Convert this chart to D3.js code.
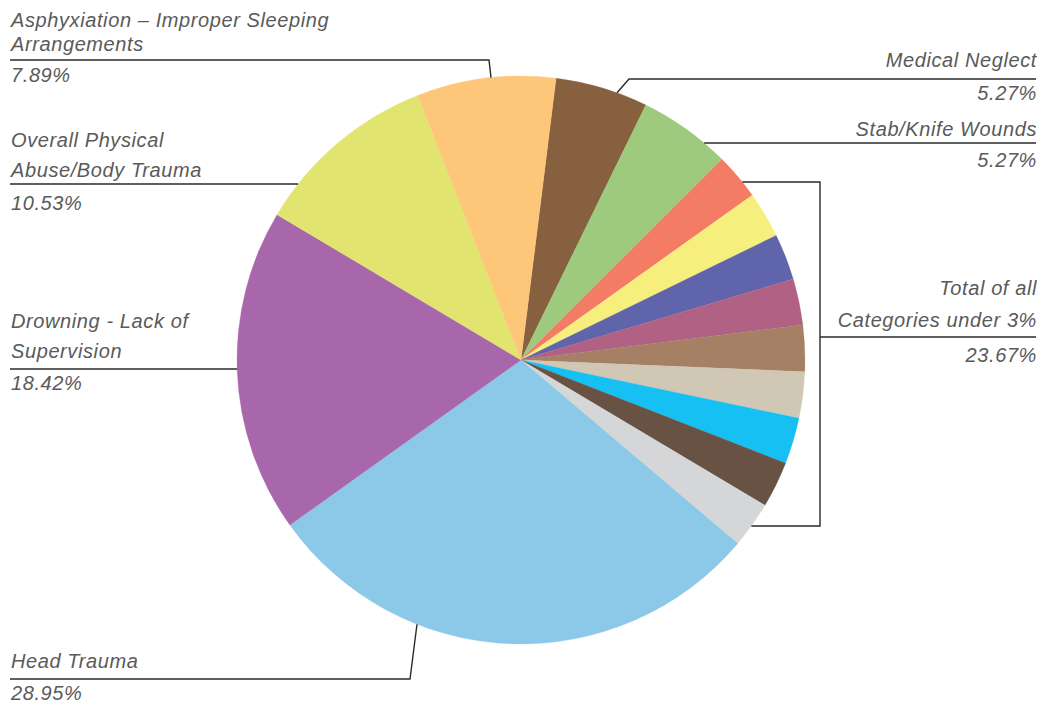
<!DOCTYPE html>
<html><head><meta charset="utf-8">
<script src="https://cdn.jsdelivr.net/npm/d3@7"></script>
<style>
html,body{margin:0;padding:0;background:#fff;}
text{font-family:"Liberation Sans","Arial","DejaVu Sans",sans-serif;font-style:italic;font-weight:normal;fill:#5a5a5a;font-size:20px;letter-spacing:0.6px;}
</style></head>
<body><svg id="c" width="1042" height="704"></svg>
<script>
// Data (clockwise from top)
const categories = ["Medical Neglect","Stab/Knife Wounds","Minor 1","Minor 2","Minor 3","Minor 4","Minor 5","Minor 6","Minor 7","Minor 8","Minor 9","Head Trauma","Drowning - Lack of Supervision","Overall Physical Abuse/Body Trauma","Asphyxiation – Improper Sleeping Arrangements"];
const values = [5.27,5.27,2.63,2.63,2.63,2.63,2.63,2.63,2.63,2.63,2.63,28.95,18.42,10.53,7.89];
const colors = ["#86603f","#9dca7c","#f47c64","#f7ef7d","#6064aa","#b16284","#a58064","#d0c7b4","#17c0f2","#685243","#d5d6d8","#8cc8e7","#a866ab","#e1e570","#fdc679"];
const labels = [
  {lines:["Asphyxiation – Improper Sleeping","Arrangements"], pct:"7.89%"},
  {lines:["Overall Physical","Abuse/Body Trauma"], pct:"10.53%"},
  {lines:["Drowning - Lack of","Supervision"], pct:"18.42%"},
  {lines:["Head Trauma"], pct:"28.95%"},
  {lines:["Medical Neglect"], pct:"5.27%"},
  {lines:["Stab/Knife Wounds"], pct:"5.27%"},
  {lines:["Total of all","Categories under 3%"], pct:"23.67%"}
];

const svg = d3.select("#c");
const cx = 521, cy = 360, R = 284;
const offset = 7.1 * Math.PI / 180;

const pie = d3.pie().sort(null).value(d => d)
  .startAngle(offset).endAngle(offset + 2*Math.PI);
const arc = d3.arc().innerRadius(0).outerRadius(R);
const g = svg.append("g").attr("transform", `translate(${cx},${cy})`);
g.selectAll("path").data(pie(values)).join("path")
  .attr("d", arc).attr("fill", (d,i) => colors[i])
  .attr("stroke", (d,i) => colors[i]).attr("stroke-width", 0.3);

const edgeAtY = (y, side) => cx + side * Math.sqrt(R*R - (y-cy)*(y-cy));
const edgeAtX = (x, side) => cy + side * Math.sqrt(R*R - (x-cx)*(x-cx));

const lineG = svg.append("g").attr("fill","none").attr("stroke","#2a2a2a").attr("stroke-width",1.4);
const path = pts => lineG.append("path").attr("d", d3.line()(pts));

function leftLabel(lab, baselines, pctY) {
  lab.lines.forEach((t,i) => svg.append("text").attr("x",11).attr("y",baselines[i]).text(t));
  svg.append("text").attr("x",11).attr("y",pctY).text(lab.pct);
}
function rightLabel(lab, baselines, pctY) {
  lab.lines.forEach((t,i) => svg.append("text").attr("x",1037).attr("y",baselines[i]).attr("text-anchor","end").text(t));
  svg.append("text").attr("x",1037).attr("y",pctY).attr("text-anchor","end").text(lab.pct);
}

leftLabel(labels[0], [27,51], 82);
path([[10,60],[489,60],[491, edgeAtX(491,-1)]]);
leftLabel(labels[1], [147,177], 210);
path([[10,184],[edgeAtY(184,-1),184]]);
leftLabel(labels[2], [328,358], 390);
path([[10,369],[edgeAtY(369,-1),369]]);
leftLabel(labels[3], [668], 700);
path([[10,679],[410,679],[417, edgeAtX(417,1)]]);
rightLabel(labels[4], [67], 100);
path([[1036,79],[629,79],[617, edgeAtX(617,-1)]]);
rightLabel(labels[5], [136], 167);
path([[1036,143],[edgeAtY(143,1),143]]);
rightLabel(labels[6], [295,327], 362);
path([[edgeAtY(182,1),182],[820,182],[820,526],[edgeAtY(526,1),526]]);
path([[820,337],[1036,337]]);
</script></body></html>
